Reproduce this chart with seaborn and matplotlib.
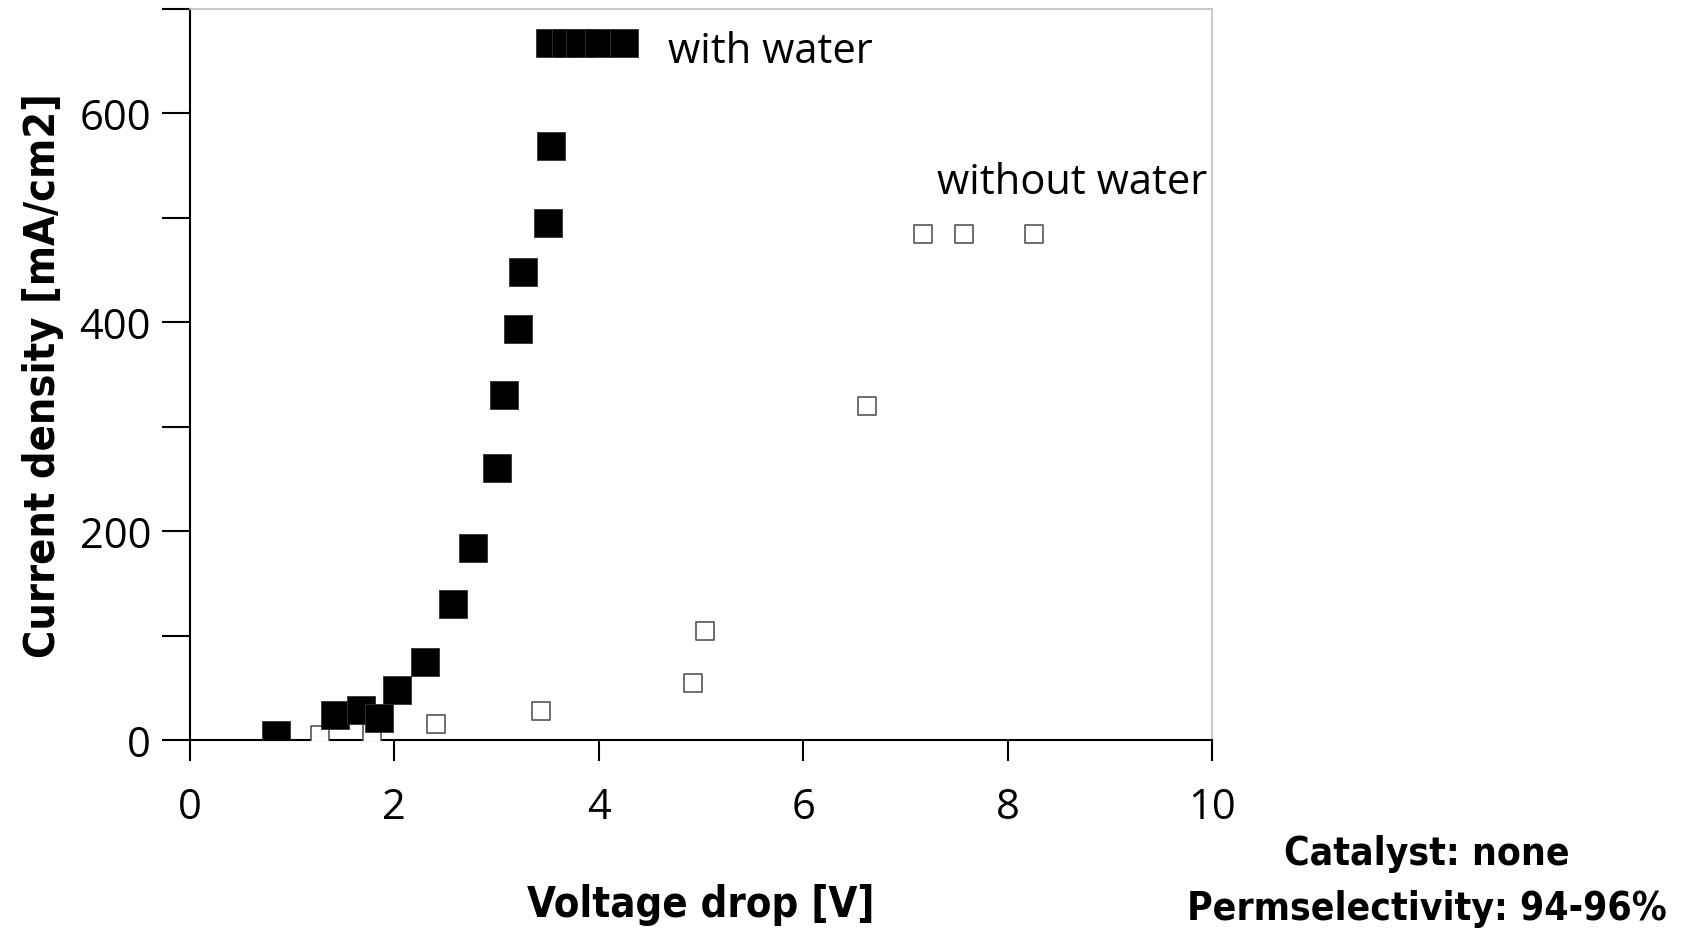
import matplotlib
matplotlib.use("Agg")
import matplotlib.pyplot as plt
import seaborn as sns
from matplotlib.ticker import MultipleLocator

# with water (filled squares)
v_water = [0.84, 1.42, 1.67, 1.85, 2.03, 2.30, 2.57, 2.77, 3.00, 3.07, 3.21, 3.26,
           3.50, 3.53, 3.52, 3.68, 3.82, 4.00, 4.25]
j_water = [5, 24, 29, 21, 48, 75, 130, 184, 260, 330, 394, 448,
           495, 569, 667, 667, 667, 667, 667]

# without water (open squares)
v_dry = [1.27, 1.78, 2.41, 3.43, 4.92, 5.04, 6.62, 7.17, 7.57, 8.26]
j_dry = [5, 7, 15, 28, 55, 104, 320, 485, 485, 485]

sns.set_style("ticks")
plt.rcParams['font.family'] = ['Open Sans', 'DejaVu Sans']
plt.rcParams['text.color'] = 'black'
plt.rcParams['axes.labelcolor'] = 'black'

fig = plt.figure(figsize=(16.84, 9.37), dpi=100)
ax = fig.add_axes([0.1128, 0.2092, 0.6069, 0.7801])

sns.scatterplot(x=v_dry, y=j_dry, marker='s', s=170, color='white',
                edgecolor='#555555', linewidth=1.2, ax=ax, zorder=3)
sns.scatterplot(x=v_water, y=j_water, marker='s', s=380, color='black',
                edgecolor='#333333', linewidth=0.6, ax=ax, zorder=4)

ax.set_xlim(0, 10)
ax.set_ylim(0, 700)
ax.xaxis.set_major_locator(MultipleLocator(2))
ax.yaxis.set_major_locator(MultipleLocator(200))
ax.yaxis.set_minor_locator(MultipleLocator(100))
ax.tick_params(axis='both', which='both', direction='out', colors='black',
               labelsize=30, width=1.5)
ax.tick_params(axis='x', which='major', length=15, pad=18)
ax.tick_params(axis='y', which='both', length=20, pad=8)

for side in ['left', 'bottom']:
    ax.spines[side].set_color('black')
    ax.spines[side].set_linewidth(1.5)
for side in ['top', 'right']:
    ax.spines[side].set_visible(True)
    ax.spines[side].set_color('#c0c0c0')
    ax.spines[side].set_linewidth(1.2)

bold = dict(family=['DejaVu Sans'], stretch='condensed', weight='bold', color='black')
ax.set_xlabel("Voltage drop [V]", labelpad=40, size=30, **bold)
ax.set_ylabel("Current density [mA/cm2]", size=31, **bold)
ax.yaxis.set_label_coords(-0.123, 0.5)

ax.text(4.68, 660, "with water", fontsize=30, va='center', ha='left')
ax.text(7.31, 534, "without water", fontsize=30, va='center', ha='left')

fig.text(0.8475, 0.089, "Catalyst: none", ha='center', va='center', size=28, **bold)
fig.text(0.8475, 0.030, "Permselectivity: 94-96%", ha='center', va='center', size=28, **bold)

fig.savefig("out.png", dpi=100)
